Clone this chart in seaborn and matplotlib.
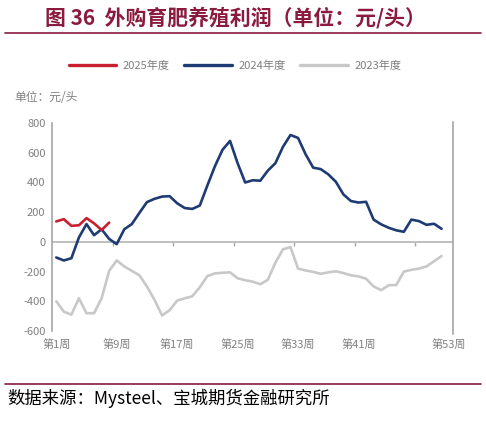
import matplotlib
matplotlib.use("Agg")
import matplotlib.pyplot as plt
from matplotlib.lines import Line2D
import numpy as np
import pandas as pd
import seaborn as sns

# weekly profit data (元/头)
weeks_2025 = list(range(1, 9))
profit_2025 = [138, 153, 108, 112, 160, 125, 80, 130]

weeks_all = list(range(1, 53))
profit_2024 = [-105, -125, -110, 30, 120, 45, 85, 20, -15, 85,
               120, 195, 268, 290, 305, 308, 260, 228, 222, 245,
               380, 510, 620, 680, 530, 400, 415, 412, 480, 530,
               640, 720, 700, 590, 500, 490, 455, 405, 320, 275,
               265, 270, 150, 118, 95, 78, 68, 150, 140, 115,
               122, 88]
profit_2023 = [-400, -470, -490, -380, -480, -480, -380, -195, -125, -165,
               -195, -225, -300, -390, -495, -460, -395, -380, -366, -305,
               -230, -212, -208, -205, -245, -258, -268, -285, -255, -140,
               -50, -35, -180, -192, -202, -215, -205, -198, -210, -225,
               -232, -248, -300, -325, -292, -290, -200, -188, -180, -165,
               -130, -95]

label_weeks = [1, 9, 17, 25, 33, 41, 53]
label_text = ['第1周', '第9周', '第17周', '第25周', '第33周', '第41周', '第53周']

sns.set_style('white')
plt.rcParams['font.family'] = ['Noto Sans CJK SC', 'DejaVu Sans']
plt.rcParams['axes.unicode_minus'] = False

RED = '#C8202E'
BLUE = '#1F3B73'
GRAY = '#C8C8C8'
AXIS = '#A6A6A6'
TXT = '#808080'
TITLE = '#8A1A3E'

fig = plt.figure(figsize=(4.86, 4.23), dpi=100)
ax = fig.add_axes([0.108, 0.2175, 0.824, 0.4915])

df23 = pd.DataFrame({'week': weeks_all, 'profit': profit_2023})
df24 = pd.DataFrame({'week': weeks_all, 'profit': profit_2024})
df25 = pd.DataFrame({'week': weeks_2025, 'profit': profit_2025})

ax.axhline(0, color='#BFBFBF', lw=1.4, zorder=1)
sns.lineplot(data=df23, x='week', y='profit', ax=ax, color=GRAY, lw=1.9,
             estimator=None, zorder=2)
sns.lineplot(data=df24, x='week', y='profit', ax=ax, color=BLUE, lw=1.9,
             estimator=None, zorder=3)
sns.lineplot(data=df25, x='week', y='profit', ax=ax, color=RED, lw=1.9,
             estimator=None, zorder=4)

ax.set_xlim(0.5, 53.5)
ax.set_ylim(-600, 800)
ax.set_yticks(range(-600, 801, 200))
ax.set_xticks(label_weeks)
ax.set_xticklabels(label_text)
ax.set_xlabel('')
ax.set_ylabel('')
ax.tick_params(axis='x', length=0, labelsize=8, labelcolor=TXT, pad=6)
ax.tick_params(axis='y', length=3, width=1, color=AXIS, direction='out',
               labelsize=8, labelcolor=TXT, pad=2)

for side in ['top', 'bottom']:
    ax.spines[side].set_visible(False)
for side in ['left', 'right']:
    ax.spines[side].set_color(AXIS)
    ax.spines[side].set_linewidth(1.2)
ax.spines['right'].set_bounds(-620, 810)

# small tick marks sitting on the zero line
sec = ax.secondary_xaxis(600 / 1400)
sec.spines['bottom'].set_visible(False)
sec.set_xticks([8.5, 16.5, 24.5, 32.5, 40.5, 48.5])
sec.tick_params(axis='x', length=3, width=1, color=AXIS, direction='out',
                labelbottom=False)

handles = [Line2D([], [], color=RED, lw=2.4),
           Line2D([], [], color=BLUE, lw=2.4),
           Line2D([], [], color=GRAY, lw=2.4)]
leg = fig.legend(handles, ['2025年度', '2024年度', '2023年度'], loc='center',
                 bbox_to_anchor=(0.484, 0.845), ncol=3, frameon=False,
                 fontsize=8, handlelength=4.3, columnspacing=1.3,
                 handletextpad=0.6)
for t in leg.get_texts():
    t.set_color(TXT)

fig.text(0.03, 0.77, '单位：元/头', fontsize=8.5, color=TXT, va='center')

fig.text(0.485, 0.958, '图 36  外购育肥养殖利润（单位：元/头）', fontsize=15,
         fontweight='bold', color=TITLE, ha='center', va='center')
fig.add_artist(Line2D([0.01, 0.99], [0.922, 0.922], color=TITLE, lw=1.2))
fig.add_artist(Line2D([0.01, 0.99], [0.092, 0.092], color=TITLE, lw=1.2))
fig.text(0.015, 0.058, '数据来源：Mysteel、宝城期货金融研究所', fontsize=12.5,
         color='black', va='center')

fig.savefig('out.png', dpi=100)
